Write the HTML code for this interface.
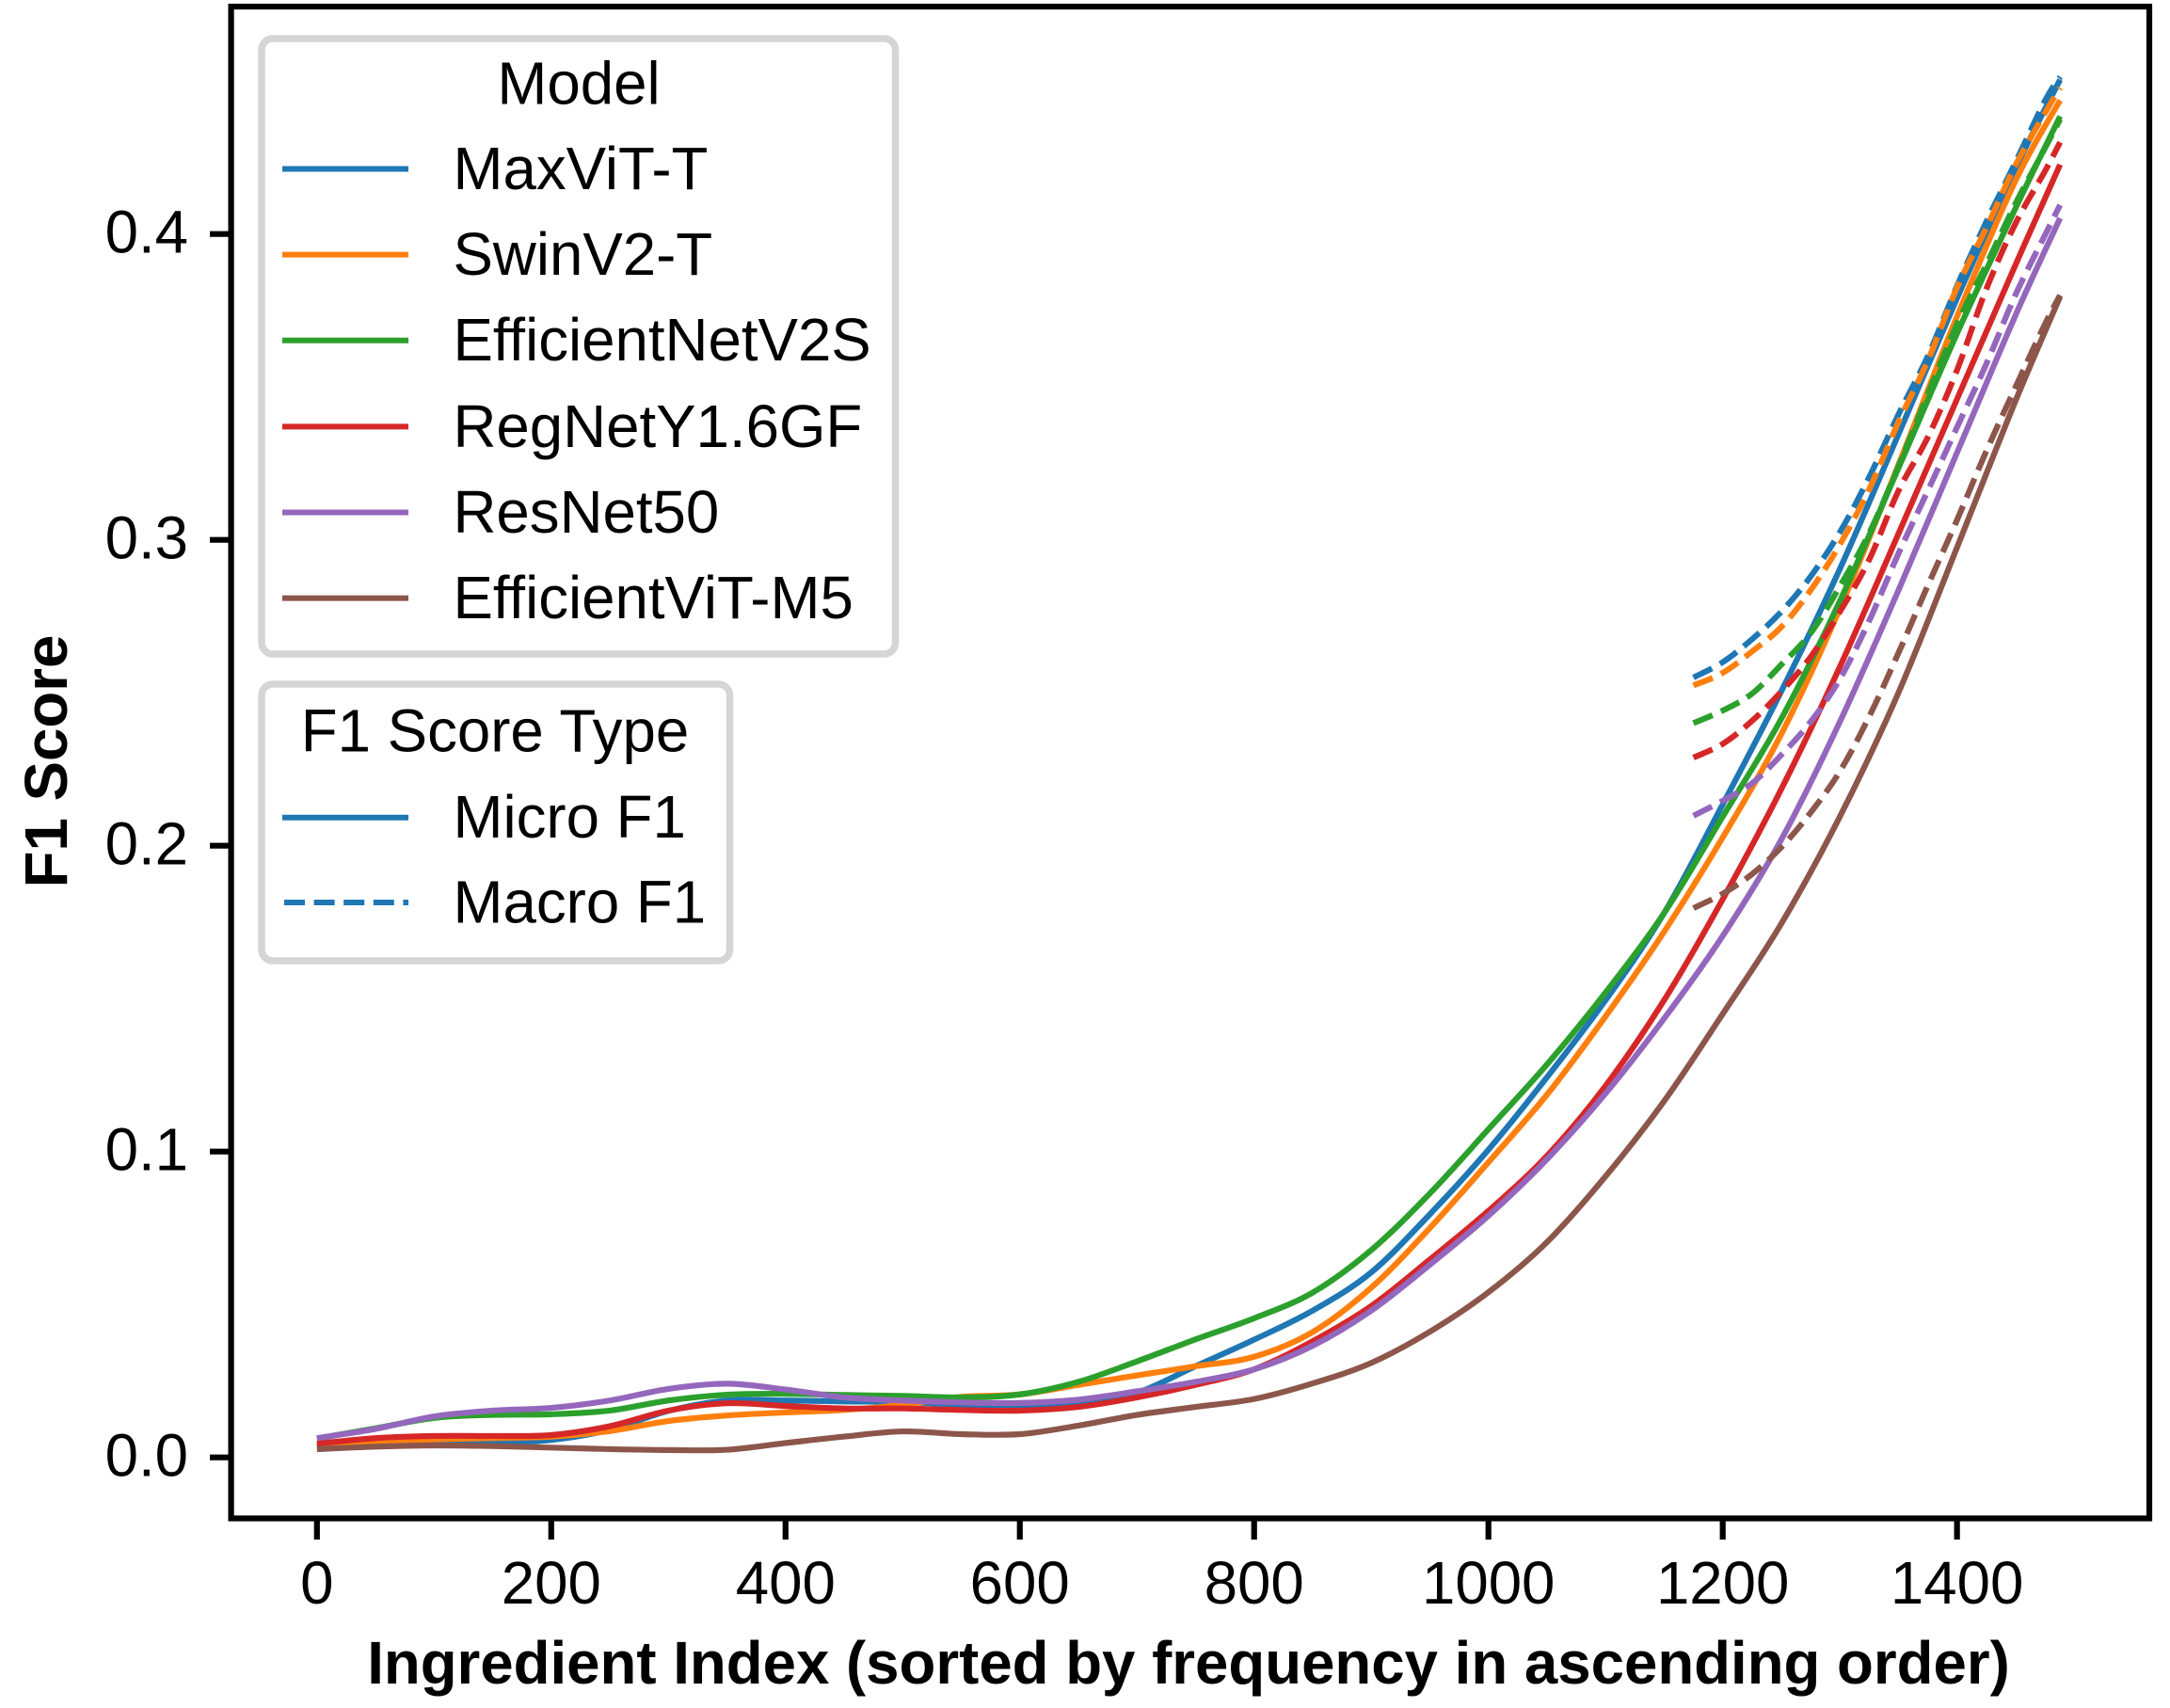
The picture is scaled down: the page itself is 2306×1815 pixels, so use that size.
<!DOCTYPE html>
<html lang="en">
<head>
<meta charset="utf-8">
<title>F1 Score by Ingredient Index</title>
<style>
  html, body { margin: 0; padding: 0; background: #fff; }
  svg { display: block; }
  text { font-family: "Liberation Sans", Arial, sans-serif; font-size: 63.6px; fill: #000; }
  .bold { font-weight: bold; }
</style>
</head>
<body>
<svg id="chart" xmlns="http://www.w3.org/2000/svg" width="2306" height="1815" viewBox="0 0 2306 1815">
  <rect x="0" y="0" width="2306" height="1815" fill="#ffffff"/>
  <g id="series-layer"></g>
  <g id="tick-layer"></g>
  <rect x="245.6" y="7" width="2038.4" height="1606.5" fill="none" stroke="#000" stroke-width="6.2"/>
  <text class="bold" x="1263" y="1789" text-anchor="middle">Ingredient Index (sorted by frequency in ascending order)</text>
  <text class="bold" transform="translate(71 809) rotate(-90)" text-anchor="middle">F1 Score</text>

  <g>
    <rect x="278" y="41" width="673.5" height="654" rx="12" ry="12" fill="#fff" stroke="#d5d5d5" stroke-width="7.5"/>
    <text x="615" y="110.5" text-anchor="middle">Model</text>
    <g>
      <line x1="300" x2="434" y1="179.5" y2="179.5" stroke="#1f77b4" stroke-width="6"/>
      <text x="481.5" y="201">MaxViT-T</text>
    </g>
    <g>
      <line x1="300" x2="434" y1="270.6" y2="270.6" stroke="#ff7f0e" stroke-width="6"/>
      <text x="481.5" y="292">SwinV2-T</text>
    </g>
    <g>
      <line x1="300" x2="434" y1="361.7" y2="361.7" stroke="#2ca02c" stroke-width="6"/>
      <text x="481.5" y="383">EfficientNetV2S</text>
    </g>
    <g>
      <line x1="300" x2="434" y1="453.4" y2="453.4" stroke="#d62728" stroke-width="6"/>
      <text x="481.5" y="475">RegNetY1.6GF</text>
    </g>
    <g>
      <line x1="300" x2="434" y1="544.5" y2="544.5" stroke="#9467bd" stroke-width="6"/>
      <text x="481.5" y="566">ResNet50</text>
    </g>
    <g>
      <line x1="300" x2="434" y1="635.6" y2="635.6" stroke="#8c564b" stroke-width="6"/>
      <text x="481.5" y="657">EfficientViT-M5</text>
    </g>
  </g>

  <g>
    <rect x="278" y="727" width="497.5" height="294" rx="12" ry="12" fill="#fff" stroke="#d5d5d5" stroke-width="7.5"/>
    <text x="526" y="798.5" text-anchor="middle">F1 Score Type</text>
    <g>
      <line x1="300" x2="434" y1="868.7" y2="868.7" stroke="#1f77b4" stroke-width="6"/>
      <text x="481.5" y="890">Micro F1</text>
    </g>
    <g>
      <line x1="302" x2="434" y1="959" y2="959" stroke="#1f77b4" stroke-width="6" stroke-dasharray="22 9.6"/>
      <text x="481.5" y="980.5">Macro F1</text>
    </g>
  </g>
</svg>

<script>
// Tick labels
const xTicks = [0, 200, 400, 600, 800, 1000, 1200, 1400];
const yTicks = [0.0, 0.1, 0.2, 0.3, 0.4];

// Ingredient index samples for each curve type
const microIndex = [0, 50, 100, 150, 200, 250, 300, 350, 400, 450, 500, 550, 600, 650, 700, 750, 800, 850, 900, 950, 1000, 1050, 1100, 1150, 1200, 1250, 1300, 1350, 1400, 1450, 1488];
const macroIndex = [1175, 1200, 1225, 1250, 1275, 1300, 1325, 1350, 1375, 1400, 1425, 1450, 1475, 1488];

// Micro F1 values
const maxvitMicro = [.004, .0042, .0045, .0047, .0057, .009, .0152, .0186, .0186, .0183, .0181, .0172, .0165, .017, .0211, .0298, .0385, .048, .0605, .0795, .1006, .1243, .1495, .178, .2135, .2505, .2905, .3345, .379, .4215, .4505];
const swinMicro = [.0037, .0052, .0059, .0063, .0068, .0086, .0119, .0137, .0147, .0155, .0172, .0198, .0206, .0237, .0268, .0298, .0329, .041, .0555, .075, .0965, .1186, .1442, .1719, .2027, .2365, .2775, .3245, .373, .4175, .4437];
const effnetMicro = [.0062, .0095, .0129, .0139, .0141, .0153, .0186, .0205, .0208, .0204, .0201, .0196, .0206, .0247, .0314, .0386, .0455, .0539, .0678, .0863, .1073, .1285, .152, .178, .2095, .2415, .28, .3235, .3675, .4085, .4385];
const regnetMicro = [.0045, .0063, .007, .007, .0073, .0102, .0153, .0177, .0168, .016, .016, .0155, .0153, .0165, .0196, .0237, .0288, .038, .0495, .0647, .0806, .0986, .1215, .1495, .1825, .2185, .2585, .302, .346, .39, .4227];
const resnetMicro = [.0063, .0093, .0134, .0153, .0162, .0186, .0224, .0241, .0222, .0196, .0186, .018, .0178, .0189, .0216, .0247, .0288, .0365, .048, .063, .079, .0975, .119, .1435, .1705, .202, .2405, .2835, .3285, .3735, .4052];
const effvitMicro = [.0027, .0035, .0039, .0037, .0032, .0027, .0024, .0025, .0047, .0068, .0085, .0076, .0076, .0104, .0139, .0165, .0191, .0242, .0309, .0411, .054, .0704, .0919, .1165, .145, .1745, .2095, .25, .2975, .3455, .3795];

// Macro F1 values
const maxvitMacro = [.255, .26, .2675, .2765, .288, .3025, .3205, .341, .36, .383, .404, .4235, .4435, .4514];
const swinMacro = [.2524, .2565, .2635, .2715, .2835, .2985, .3165, .3385, .3585, .3825, .402, .4225, .4395, .4478];
const effnetMacro = [.2401, .2442, .2497, .2592, .2695, .2848, .3022, .324, .3475, .3705, .39, .41, .428, .4375];
const regnetMacro = [.2288, .2333, .2408, .2504, .2617, .2765, .2935, .316, .3335, .3555, .382, .4035, .4205, .43];
const resnetMacro = [.2098, .2147, .2204, .2297, .2405, .2545, .2735, .2955, .316, .3368, .3575, .3802, .3996, .4095];
const effvitMacro = [.1796, .1843, .1907, .1995, .2108, .2243, .2422, .263, .285, .3065, .329, .35, .3705, .38];

// Model order and colours
const modelNames = ["maxvit-t", "swinv2-t", "efficientnetv2s", "regnety16gf", "resnet50", "efficientvit-m5"];
const modelColors = ["#1f77b4", "#ff7f0e", "#2ca02c", "#d62728", "#9467bd", "#8c564b"];
const microSeries = [maxvitMicro, swinMicro, effnetMicro, regnetMicro, resnetMicro, effvitMicro];
const macroSeries = [maxvitMacro, swinMacro, effnetMacro, regnetMacro, resnetMacro, effvitMacro];

const SVG_NS = "http://www.w3.org/2000/svg";
const seriesLayer = document.getElementById("series-layer");
const tickLayer = document.getElementById("tick-layer");

function xScale(index) { return 336.8 + 1.2449 * index; }
function yScale(value) { return 1548.7 - 3250 * value; }

function make(tag, attrs) {
  const el = document.createElementNS(SVG_NS, tag);
  for (const key in attrs) { el.setAttribute(key, attrs[key]); }
  return el;
}

// Smooth Catmull-Rom path through the sampled points.
function curvePath(xs, ys) {
  const pts = xs.map(function (x, i) { return [xScale(x), yScale(ys[i])]; });
  let d = "M" + pts[0][0].toFixed(2) + " " + pts[0][1].toFixed(2);
  for (let i = 0; i < pts.length - 1; i++) {
    const p0 = pts[Math.max(i - 1, 0)];
    const p1 = pts[i];
    const p2 = pts[i + 1];
    const p3 = pts[Math.min(i + 2, pts.length - 1)];
    const c1x = p1[0] + (p2[0] - p0[0]) / 6;
    const c1y = p1[1] + (p2[1] - p0[1]) / 6;
    const c2x = p2[0] - (p3[0] - p1[0]) / 6;
    const c2y = p2[1] - (p3[1] - p1[1]) / 6;
    d += "C" + c1x.toFixed(2) + " " + c1y.toFixed(2) + " " + c2x.toFixed(2) + " " + c2y.toFixed(2) + " " + p2[0].toFixed(2) + " " + p2[1].toFixed(2);
  }
  return d;
}

modelNames.forEach(function (name, m) {
  const micro = make("path", { d: curvePath(microIndex, microSeries[m]), fill: "none", stroke: modelColors[m], "stroke-width": 6.2 });
  
  
  seriesLayer.appendChild(micro);

  const macro = make("path", { d: curvePath(macroIndex, macroSeries[m]), fill: "none", stroke: modelColors[m], "stroke-width": 6.2, "stroke-dasharray": "22 9.6" });
  
  
  seriesLayer.appendChild(macro);
});

xTicks.forEach(function (tick) {
  const x = xScale(tick);
  const mark = make("line", { x1: x, x2: x, y1: 1613.5, y2: 1636, stroke: "#000", "stroke-width": 6.2 });
  
  
  tickLayer.appendChild(mark);

  const label = make("text", { x: x, y: 1704, "text-anchor": "middle" });
  label.textContent = String(tick);
  
  
  tickLayer.appendChild(label);
});

yTicks.forEach(function (tick) {
  const y = yScale(tick);
  const mark = make("line", { x1: 223, x2: 245.6, y1: y, y2: y, stroke: "#000", "stroke-width": 6.2 });
  
  
  tickLayer.appendChild(mark);

  const label = make("text", { x: 200, y: y + 20, "text-anchor": "end" });
  label.textContent = tick.toFixed(1);
  
  
  tickLayer.appendChild(label);
});
</script>
</body>
</html>
